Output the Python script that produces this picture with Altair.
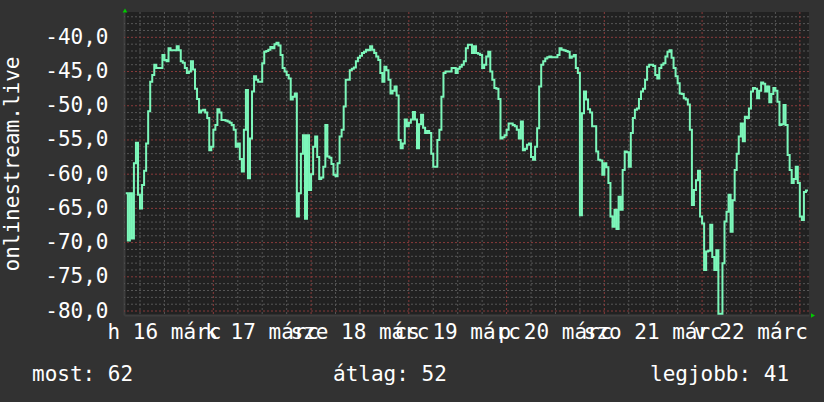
import altair as alt
import pandas as pd

# Signal level samples (dB), one every 30 minutes
series_start = "2015-03-16 02:30"
step_minutes = 30
signal_db = [
    -62.8, -69.7, -62.8, -69.4, -58.4, -55.4, -63.0, -65.0, -61.6, -59.5,
    -55.5, -50.8, -46.5, -45.5, -44.0, -44.5, -44.5, -44.5, -42.6, -43.3,
    -43.5, -41.6, -41.9, -41.9, -41.9, -41.3, -41.9, -43.5, -43.7, -44.5,
    -45.2, -45.0, -43.5, -44.7, -47.5, -49.0, -51.0, -50.7, -50.6, -51.0,
    -51.8, -56.5, -56.0, -53.5, -52.8, -50.5, -51.0, -52.1, -52.1, -52.2,
    -52.3, -52.5, -52.8, -53.5, -56.0, -55.5, -57.8, -59.6, -53.5, -47.7,
    -60.6, -54.8, -47.9, -45.7, -46.2, -46.5,
    -46.5, -43.8, -42.1, -42.0, -41.8, -41.4, -41.6, -41.0, -40.8, -41.2,
    -42.6, -44.5, -45.0, -45.5, -46.0, -49.1, -48.7, -48.2, -66.2, -62.8,
    -57.0, -54.3, -66.5, -54.3, -62.3, -60.0, -56.0, -54.5, -57.5, -60.7,
    -60.5, -58.9, -52.8, -57.4, -57.6, -58.5, -60.1, -60.3, -58.4, -54.5,
    -53.5, -50.1, -46.2, -46.2, -44.8, -44.6, -44.4, -43.5, -43.0, -42.7,
    -42.3, -42.1, -41.8, -41.9, -41.3, -41.8, -42.3, -42.8, -43.3, -45.2,
    -46.5, -44.3, -44.8, -46.2, -48.2, -47.8,
    -47.2, -48.5, -55.0, -56.2, -55.5, -52.0, -53.0, -52.5, -52.0, -50.9,
    -52.0, -56.2, -52.7, -51.3, -53.2, -54.0, -53.7, -54.0, -57.0, -58.9,
    -58.9, -55.0, -53.5, -48.7, -45.2, -45.0, -45.0, -45.0, -44.5, -44.5,
    -45.2, -44.6, -44.3, -44.0, -43.5, -41.6, -41.1, -41.1, -42.3, -41.3,
    -42.3, -42.4, -42.6, -44.5, -44.0, -42.8, -42.1, -45.0, -46.2, -47.4,
    -47.5, -49.0, -54.8, -54.6, -54.3, -53.5, -52.6, -52.6, -52.8, -53.0,
    -53.5, -54.8, -52.3, -56.5, -56.3, -55.7,
    -55.5, -57.5, -57.9, -56.0, -53.3, -47.2, -44.0, -43.5, -43.1, -42.9,
    -42.8, -42.9, -42.9, -42.9, -42.6, -41.6, -41.8, -41.9, -42.0, -42.1,
    -43.0, -42.8, -42.6, -44.5, -45.2, -66.0, -51.1, -47.9, -49.1, -50.5,
    -51.0, -53.0, -53.0, -56.7, -57.9, -58.0, -60.1, -58.4, -59.0, -61.3,
    -66.2, -67.7, -65.2, -68.0, -63.3, -65.2, -59.4, -56.7, -56.8, -58.9,
    -54.0, -51.8, -50.6, -50.4, -49.0, -47.9, -47.5, -46.2, -44.3, -44.0,
    -44.0, -44.2, -45.5, -46.0, -44.5,
    -44.0, -43.8, -42.8, -42.1, -41.9, -43.0, -44.5, -45.7, -46.7, -48.2,
    -48.3, -48.9, -49.1, -49.8, -53.5, -64.5, -62.3, -60.9, -59.5, -66.2,
    -67.2, -74.0, -71.3, -71.2, -67.4, -72.1, -74.0, -71.1, -80.4, -80.4,
    -73.0, -66.9, -65.5, -63.0, -68.4, -63.8, -59.4, -57.0, -54.5, -52.6,
    -55.2, -51.6, -51.8, -50.4, -47.9, -47.4, -47.5, -48.9, -47.8, -46.6,
    -46.8, -47.9, -47.2, -49.5, -48.3, -47.4, -47.8, -49.4, -52.8, -52.7,
    -49.9, -52.8, -57.2, -59.4, -61.3, -60.7, -58.9, -61.3, -66.2, -66.7,
    -62.6, -62.4,
]

# Day labels, centred on noon of each day
day_labels = ["h 16 márc", "k 17 márc", "sze 18 márc", "cs 19 márc",
              "p 20 márc", "szo 21 márc", "v 22 márc"]
day_noons = ["2015-03-16 12:00", "2015-03-17 12:00", "2015-03-18 12:00",
             "2015-03-19 12:00", "2015-03-20 12:00", "2015-03-21 12:00",
             "2015-03-22 12:00"]

y_ticks = [-80, -75, -70, -65, -60, -55, -50, -45, -40]
y_title = "onlinestream.live"
footer_names = ["most", "átlag", "legjobb"]

# Layout and styling
plot_w, plot_h = 685, 303
font = "DejaVu Sans Mono"
fs = 21
bg = "#323232"
canvas = "#212121"
line_col = "#7cf7ba"
minor_col = "#565656"
major_col = "#8a3b3b"
arrow_col = "#00cc00"

times = pd.date_range(series_start, periods=len(signal_db) + 1,
                      freq=f"{step_minutes}min")
line_df = pd.DataFrame({"t": times, "db": signal_db + [signal_db[-1]]})

grid_times = pd.date_range("2015-03-16 06:00", "2015-03-23 00:00", freq="6h")
vmajor_df = pd.DataFrame({"t": [t for t in grid_times if t.hour == 0]})
vminor_df = pd.DataFrame({"t": [t for t in grid_times if t.hour != 0]})
hmajor_df = pd.DataFrame({"v": y_ticks})
hminor_df = pd.DataFrame({"v": [v for v in range(-80, -36) if v % 5]})
labels_df = pd.DataFrame({"t": pd.to_datetime(day_noons), "label": day_labels})

xscale = alt.Scale(domain=[alt.DateTime(year=2015, month=3, date=16, hours=2, minutes=4),
                           alt.DateTime(year=2015, month=3, date=23, hours=2, minutes=15)])
yscale = alt.Scale(domain=[-80.58, -36.3], nice=False, zero=False)
xaxis = alt.Axis(labels=False, ticks=False, grid=False, title=None,
                 domainColor="#3e3e3e", domainWidth=2)
yaxis = alt.Axis(values=y_ticks, grid=False, ticks=False, tickSize=0,
                 labelExpr="(datum.value < 0 ? '-' : '') + replace(format(abs(datum.value), '.1f'), '.', ',')",
                 labelFont=font, labelFontSize=fs, labelColor="#ffffff", labelPadding=16,
                 domainColor="#3e3e3e", domainWidth=2,
                 title=y_title, titleFont=font, titleFontSize=fs, titleFontWeight="normal",
                 titleColor="#ffffff", titleAngle=270, titleAlign="center",
                 titleBaseline="alphabetic", titleX=-106, titleY=plot_h / 2)


def hrule(df, color):
    return alt.Chart(df).mark_rule(color=color, strokeWidth=1, strokeDash=[2, 2]).encode(
        y=alt.Y("v:Q", scale=yscale, axis=yaxis))


def vrule(df, color):
    return alt.Chart(df).mark_rule(color=color, strokeWidth=1, strokeDash=[2, 2]).encode(
        x=alt.X("t:T", scale=xscale, axis=xaxis))


line = alt.Chart(line_df).mark_line(
    interpolate="step-after", color=line_col, strokeWidth=2, clip=True
).encode(
    x=alt.X("t:T", scale=xscale, axis=xaxis),
    y=alt.Y("db:Q", scale=yscale, axis=yaxis),
)

day_text = alt.Chart(labels_df).mark_text(
    font=font, fontSize=fs, color="#ffffff", align="center", baseline="alphabetic"
).encode(
    x=alt.X("t:T", scale=xscale, axis=xaxis),
    y=alt.value(327),
    text="label:N",
)

# Summary line: last value, mean and best value
stats = [abs(signal_db[-1]), abs(sum(signal_db) / len(signal_db)), abs(max(signal_db))]
footer_x = [-92, 209, 526]
footer_layers = []
for name, val, fx in zip(footer_names, stats, footer_x):
    footer_layers.append(
        alt.Chart(pd.DataFrame({"label": [f"{name}: {val:.0f}"]})).mark_text(
            font=font, fontSize=fs, color="#ffffff", align="left", baseline="alphabetic"
        ).encode(x=alt.value(fx), y=alt.value(369), text="label:N")
    )

one = pd.DataFrame({"k": [0]})
arrow_up = alt.Chart(one).mark_point(
    shape="triangle-up", filled=True, size=22, color=arrow_col, opacity=1
).encode(x=alt.value(1), y=alt.value(-1.5))
arrow_right = alt.Chart(one).mark_point(
    shape="triangle-right", filled=True, size=22, color=arrow_col, opacity=1
).encode(x=alt.value(plot_w + 4), y=alt.value(plot_h + 0.5))

chart = alt.layer(
    hrule(hminor_df, minor_col),
    vrule(vminor_df, minor_col),
    hrule(hmajor_df, major_col),
    vrule(vmajor_df, major_col),
    line,
    day_text,
    *footer_layers,
    arrow_up,
    arrow_right,
).properties(
    width=plot_w,
    height=plot_h,
    background=bg,
    padding={"left": 124, "top": 12, "right": 15, "bottom": 87},
    autosize=alt.AutoSizeParams(type="none"),
).configure_view(
    fill=canvas, stroke=None
)

chart.save("out.html", embed_options={"renderer": "svg", "actions": False})
